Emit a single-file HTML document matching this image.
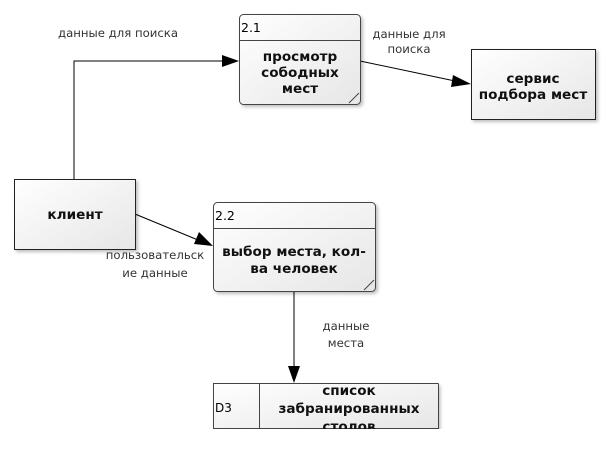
<!DOCTYPE html>
<html><head><meta charset="utf-8"><style>
body{margin:0;width:606px;height:444px;background:#fff;overflow:hidden}
svg{font-family:"DejaVu Sans","Liberation Sans",sans-serif}
.l{font-size:11.7px;fill:#333}
.b{font-size:13.6px;font-weight:bold;fill:#111}
</style></head><body>
<svg width="606" height="444" viewBox="0 0 606 444">
<defs>
<linearGradient id="g" x1="0" y1="0" x2="1" y2="1"><stop offset="0" stop-color="#fff"/><stop offset="1" stop-color="#e6e6e6"/></linearGradient>
<filter id="s" x="-10%" y="-10%" width="130%" height="130%"><feDropShadow dx="2" dy="2" stdDeviation="1.5" flood-color="#000" flood-opacity="0.25"/></filter>
</defs>
<g stroke="#000" stroke-width="1" fill="none">
<polyline points="74,179 74,61 222,61"/>
<line x1="360" y1="61" x2="455" y2="81"/>
<line x1="135" y1="214" x2="198" y2="240"/>
<line x1="294" y1="291" x2="294" y2="366"/>
</g>
<g fill="#000">
<polygon points="239,61 222,55 222,67"/>
<polygon points="471,84 453,75 451,87"/>
<polygon points="213,246 199,232 194,244"/>
<polygon points="294,383 288,366 300,366"/>
</g>
<g filter="url(#s)">
<rect x="239.5" y="14.5" width="121" height="90" rx="4" fill="url(#g)" stroke="#444"/>
<rect x="471.5" y="49.5" width="124" height="70" fill="url(#g)" stroke="#222"/>
<rect x="14.5" y="179.5" width="121" height="70" fill="url(#g)" stroke="#222"/>
<rect x="213.5" y="202.5" width="162" height="89" rx="4" fill="url(#g)" stroke="#444"/>
<rect x="213.5" y="383.5" width="225" height="45" fill="url(#g)" stroke="none"/>
</g>
<g stroke="#444" fill="none">
<line x1="239.5" y1="40.5" x2="360.5" y2="40.5"/>
<line x1="213.5" y1="228.5" x2="375.5" y2="228.5"/>
<line x1="349" y1="103" x2="359" y2="93"/>
<line x1="364" y1="290" x2="374" y2="280"/>
<polyline points="438.5,383.5 213.5,383.5 213.5,428.5 438.5,428.5 438.5,383.5"/>
<line x1="259.5" y1="383.5" x2="259.5" y2="428.5"/>
</g>
<text x="241" y="32" font-size="12.5" fill="#000">2.1</text>
<text x="215" y="220" font-size="12.5" fill="#000">2.2</text>
<text x="215" y="412" font-size="12" fill="#000">D3</text>
<g class="b" text-anchor="middle">
<text x="300" y="61">просмотр</text><text x="300" y="77">сободных</text><text x="300" y="93">мест</text>
<text x="533" y="83">сервис</text><text x="533" y="99">подбора мест</text>
<text x="75" y="219">клиент</text>
<text x="294" y="256">выбор места, кол-</text><text x="294" y="273">ва человек</text>
<text x="349" y="395">список</text><text x="349" y="413">забранированных</text><text x="349" y="431">столов</text>
</g>
<rect x="200" y="429" width="300" height="15" fill="#fff"/>
<g class="l" text-anchor="middle">
<text x="118" y="37">данные для поиска</text>
<text x="409" y="38">данные для</text><text x="409" y="53">поиска</text>
<text x="155" y="259">пользовательск</text><text x="155" y="277">ие данные</text>
<text x="346" y="330">данные</text><text x="346" y="347">места</text>
</g>
</svg>
</body></html>
